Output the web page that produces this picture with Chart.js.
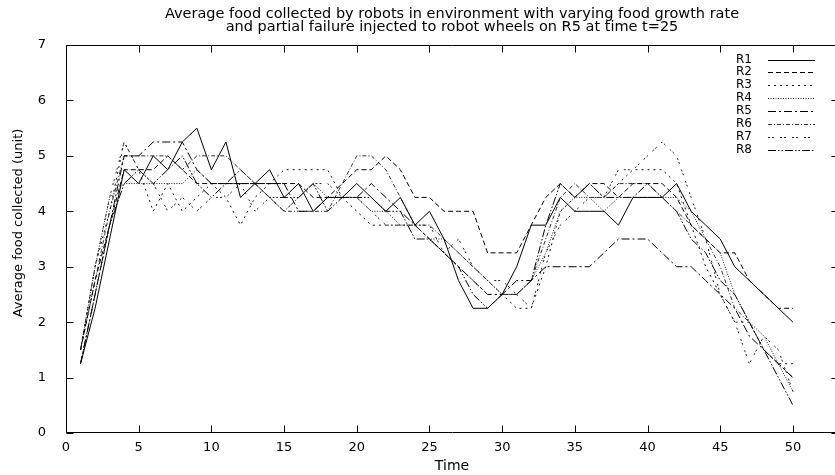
<!DOCTYPE html>
<html><head><meta charset="utf-8">
<script src="https://cdn.jsdelivr.net/npm/chart.js@4.4.1/dist/chart.umd.min.js"></script>
<style>html,body{margin:0;padding:0;background:#fff;overflow:hidden;}#wrap{width:850px;height:475px;}</style>
</head><body><div id="wrap"><canvas id="c" width="850" height="475"></canvas></div>
<script>
// ---- data ----
const times = [1,2,3,4,5,6,7,8,9,10,11,12,13,14,15,16,17,18,19,20,21,22,23,24,25,26,27,28,29,30,31,32,33,34,35,36,37,38,39,40,41,42,43,44,45,46,47,48,49,50];
const seriesNames = ['R1','R2','R3','R4','R5','R6','R7','R8'];
const r1 = [1.25,2.25,3.5,4.75,4.5,5.0,4.75,5.25,5.5,4.75, 5.25,4.25,4.5,4.75,4.25,4.5,4.0,4.25,4.25,4.5, 4.25,4.0,4.25,3.75,4.0,3.5,2.75,2.25,2.25,2.5, 3.0,3.75,3.75,4.25,4.0,4.0,4.0,3.75,4.25,4.25, 4.25,4.5,4.0,3.75,3.5,3.0,2.75,2.5,2.25,2.0];
const r2 = [1.5,2.75,3.75,4.75,4.75,4.75,5.0,4.75,4.5,4.5, 4.5,4.5,4.5,4.5,4.5,4.5,4.25,4.25,4.5,4.75, 4.75,5.0,4.75,4.25,4.25,4.0,4.0,4.0,3.25,3.25, 3.25,3.75,4.25,4.5,4.25,4.5,4.5,4.25,4.5,4.5, 4.5,4.25,3.75,3.5,3.25,3.25,2.75,2.5,2.25,2.25];
const r3 = [1.5,3.0,4.0,5.25,4.75,4.0,4.5,4.0,4.25,4.5, 4.25,3.75,4.25,4.5,4.75,4.75,4.75,4.75,4.25,4.0, 3.75,3.75,3.75,3.75,3.5,3.25,3.0,2.75,2.5,2.5, 2.25,2.25,3.0,4.0,4.25,4.5,4.25,4.5,4.75,4.75, 4.75,4.5,3.75,3.0,2.5,2.0,2.0,1.5,1.25,1.25];
const r4 = [1.5,3.0,4.25,4.5,4.5,4.5,4.5,4.5,4.75,4.5, 4.5,4.5,4.5,4.25,4.0,4.25,4.5,4.25,4.25,4.25, 4.0,4.0,3.75,3.75,3.5,3.5,3.25,3.0,2.75,2.5, 2.5,2.75,3.25,4.0,4.25,4.25,4.0,4.25,4.25,4.25, 4.25,4.25,4.0,3.5,3.25,2.5,2.0,1.75,1.25,0.75];
const r5 = [1.25,2.5,3.75,5.0,5.0,5.25,5.25,5.25,4.75,4.5, 4.5,4.5,4.5,4.5,4.5,4.0,4.0,4.25,4.25,4.25, 4.5,4.25,4.0,3.75,3.5,3.25,3.0,2.75,2.5,2.5, 2.75,2.75,3.0,3.0,3.0,3.0,3.25,3.5,3.5,3.5, 3.25,3.0,3.0,2.75,2.5,2.25,1.75,1.5,1.25,1.0];
const r6 = [1.5,2.75,4.0,5.0,5.0,5.0,5.0,4.75,5.0,5.0, 5.0,4.75,4.5,4.25,4.0,4.0,4.0,4.0,4.5,5.0, 5.0,4.75,4.25,3.75,3.75,3.5,3.25,3.0,2.75,2.5, 2.5,2.75,3.5,4.25,4.5,4.25,4.25,4.5,4.5,4.5, 4.25,4.0,3.75,3.5,3.0,2.25,2.0,1.5,1.25,1.0];
const r7 = [1.5,3.0,4.25,5.25,4.75,4.5,4.0,4.25,4.0,4.25, 4.25,4.5,4.0,4.25,4.0,4.25,4.5,4.5,4.25,4.25, 4.0,3.75,3.75,3.75,3.75,3.25,3.5,3.0,2.75,2.75, 2.5,2.25,3.25,3.75,4.0,4.25,4.25,4.75,4.75,5.0, 5.25,5.0,4.25,3.5,2.5,2.0,1.25,1.75,1.5,0.75];
const r8 = [1.25,2.5,3.75,4.5,4.75,4.5,4.75,5.0,4.5,4.25, 4.5,4.75,4.5,4.25,4.25,4.25,4.5,4.0,4.25,4.25, 4.25,4.0,4.0,3.5,3.5,3.25,3.0,2.5,2.25,2.5, 2.5,2.75,3.75,4.5,4.25,4.5,4.25,4.25,4.25,4.5, 4.25,4.0,3.5,3.25,2.75,2.5,2.0,1.5,1.0,0.5];
const xTicks = [0,5,10,15,20,25,30,35,40,45,50];
const yTicks = [0,1,2,3,4,5,6,7];
const titleLines = ['Average food collected by robots in environment with varying food growth rate','and partial failure injected to robot wheels on R5 at time t=25'];
const xLabel = 'Time';
const yLabel = 'Average food collected (unit)';

// ---- styles ----
const seriesValues = [r1,r2,r3,r4,r5,r6,r7,r8];
const dashes = [[],[5,3],[2,4],[1,1.5],[8,3,2,3],[4,2,1,2],[2,2,2,6],[8,2,1.5,2,1.5,2]];
const colors = ['#000','#000','#111','#222','#000','#333','#222','#000'];
const FONT = '"DejaVu Sans", sans-serif';

const datasets = seriesNames.map((name, i) => ({
  label: name,
  data: times.map((t, j) => ({x: t, y: seriesValues[i][j]})),
  borderColor: colors[i],
  borderWidth: 1,
  borderDash: dashes[i],
  pointRadius: 0,
  tension: 0,
  fill: false
}));

const framePlugin = {
  id: 'frame',
  afterDatasetsDraw(chart) {
    const {ctx, chartArea: {left, right, top, bottom}, scales: {x, y}} = chart;
    const L = Math.round(left) + 0.5, R = Math.round(right) + 0.5, T = Math.round(top) + 0.5, B = Math.round(bottom) - 0.5;
    ctx.save();
    ctx.strokeStyle = '#000';
    ctx.lineWidth = 1;
    ctx.setLineDash([]);
    ctx.beginPath();
    ctx.rect(L, T, R - L, B - T);
    x.ticks.forEach(t => {
      const px = Math.round(x.getPixelForValue(t.value)) + 0.5;
      ctx.moveTo(px, B); ctx.lineTo(px, B - 7);
      ctx.moveTo(px, T); ctx.lineTo(px, T + 7);
    });
    y.ticks.forEach(t => {
      const py = Math.round(y.getPixelForValue(t.value)) + 0.5;
      ctx.moveTo(L, py); ctx.lineTo(L + 7, py);
      ctx.moveTo(R, py); ctx.lineTo(R - 7, py);
    });
    ctx.stroke();
    ctx.restore();
  }
};

const yTitlePlugin = {
  id: 'ytitle',
  afterDraw(chart) {
    const ctx = chart.ctx;
    ctx.save();
    ctx.translate(19, 223);
    ctx.rotate(-Math.PI / 2);
    ctx.font = '13px ' + FONT;
    ctx.fillStyle = '#000';
    ctx.textAlign = 'center';
    ctx.textBaseline = 'middle';
    ctx.fillText(yLabel, 0, 0);
    ctx.restore();
  }
};

const keyPlugin = {
  id: 'key',
  afterDraw(chart) {
    const ctx = chart.ctx;
    ctx.save();
    ctx.font = '12px ' + FONT;
    ctx.textAlign = 'right';
    ctx.textBaseline = 'middle';
    chart.data.datasets.forEach((ds, i) => {
      const yy = 59.5 + i * 12.86;
      ctx.fillStyle = '#000';
      ctx.fillText(ds.label, 752, yy);
      ctx.strokeStyle = ds.borderColor;
      ctx.lineWidth = 1;
      ctx.setLineDash(ds.borderDash);
      ctx.beginPath();
      ctx.moveTo(768, Math.round(yy) + 0.5);
      ctx.lineTo(815, Math.round(yy) + 0.5);
      ctx.stroke();
    });
    ctx.restore();
  }
};

new Chart(document.getElementById('c'), {
  type: 'line',
  data: { datasets },
  options: {
    responsive: false,
    animation: false,
    devicePixelRatio: 1,
    layout: { padding: { left: 0, right: 12, top: 0, bottom: 0 } },
    plugins: {
      legend: { display: false },
      tooltip: { enabled: false },
      title: {
        display: true,
        text: titleLines,
        fullSize: false,
        color: '#000',
        font: { family: FONT, size: 14.5, weight: 'normal', lineHeight: 0.9 },
        padding: { top: 8, bottom: 10.9 }
      }
    },
    scales: {
      x: {
        type: 'linear',
        min: 0,
        max: 53.1,
        afterBuildTicks: s => { s.ticks = xTicks.map(v => ({ value: v })); },
        afterFit: s => { s.height = 42; },
        grid: { display: false, drawTicks: false },
        border: { display: false },
        ticks: { color: '#000', font: { family: FONT, size: 13 }, padding: 7, maxRotation: 0, autoSkip: false },
        title: { display: true, text: xLabel, color: '#000', font: { family: FONT, size: 14, lineHeight: 1.2 }, padding: { top: 0, bottom: 0 } }
      },
      y: {
        min: 0,
        max: 7,
        afterBuildTicks: s => { s.ticks = yTicks.map(v => ({ value: v })); },
        afterFit: s => { s.width = 66; },
        grid: { display: false, drawTicks: false },
        border: { display: false },
        ticks: { color: '#000', font: { family: FONT, size: 13 }, padding: 20, autoSkip: false }
      }
    }
  },
  plugins: [framePlugin, yTitlePlugin, keyPlugin]
});
</script>
</body></html>
